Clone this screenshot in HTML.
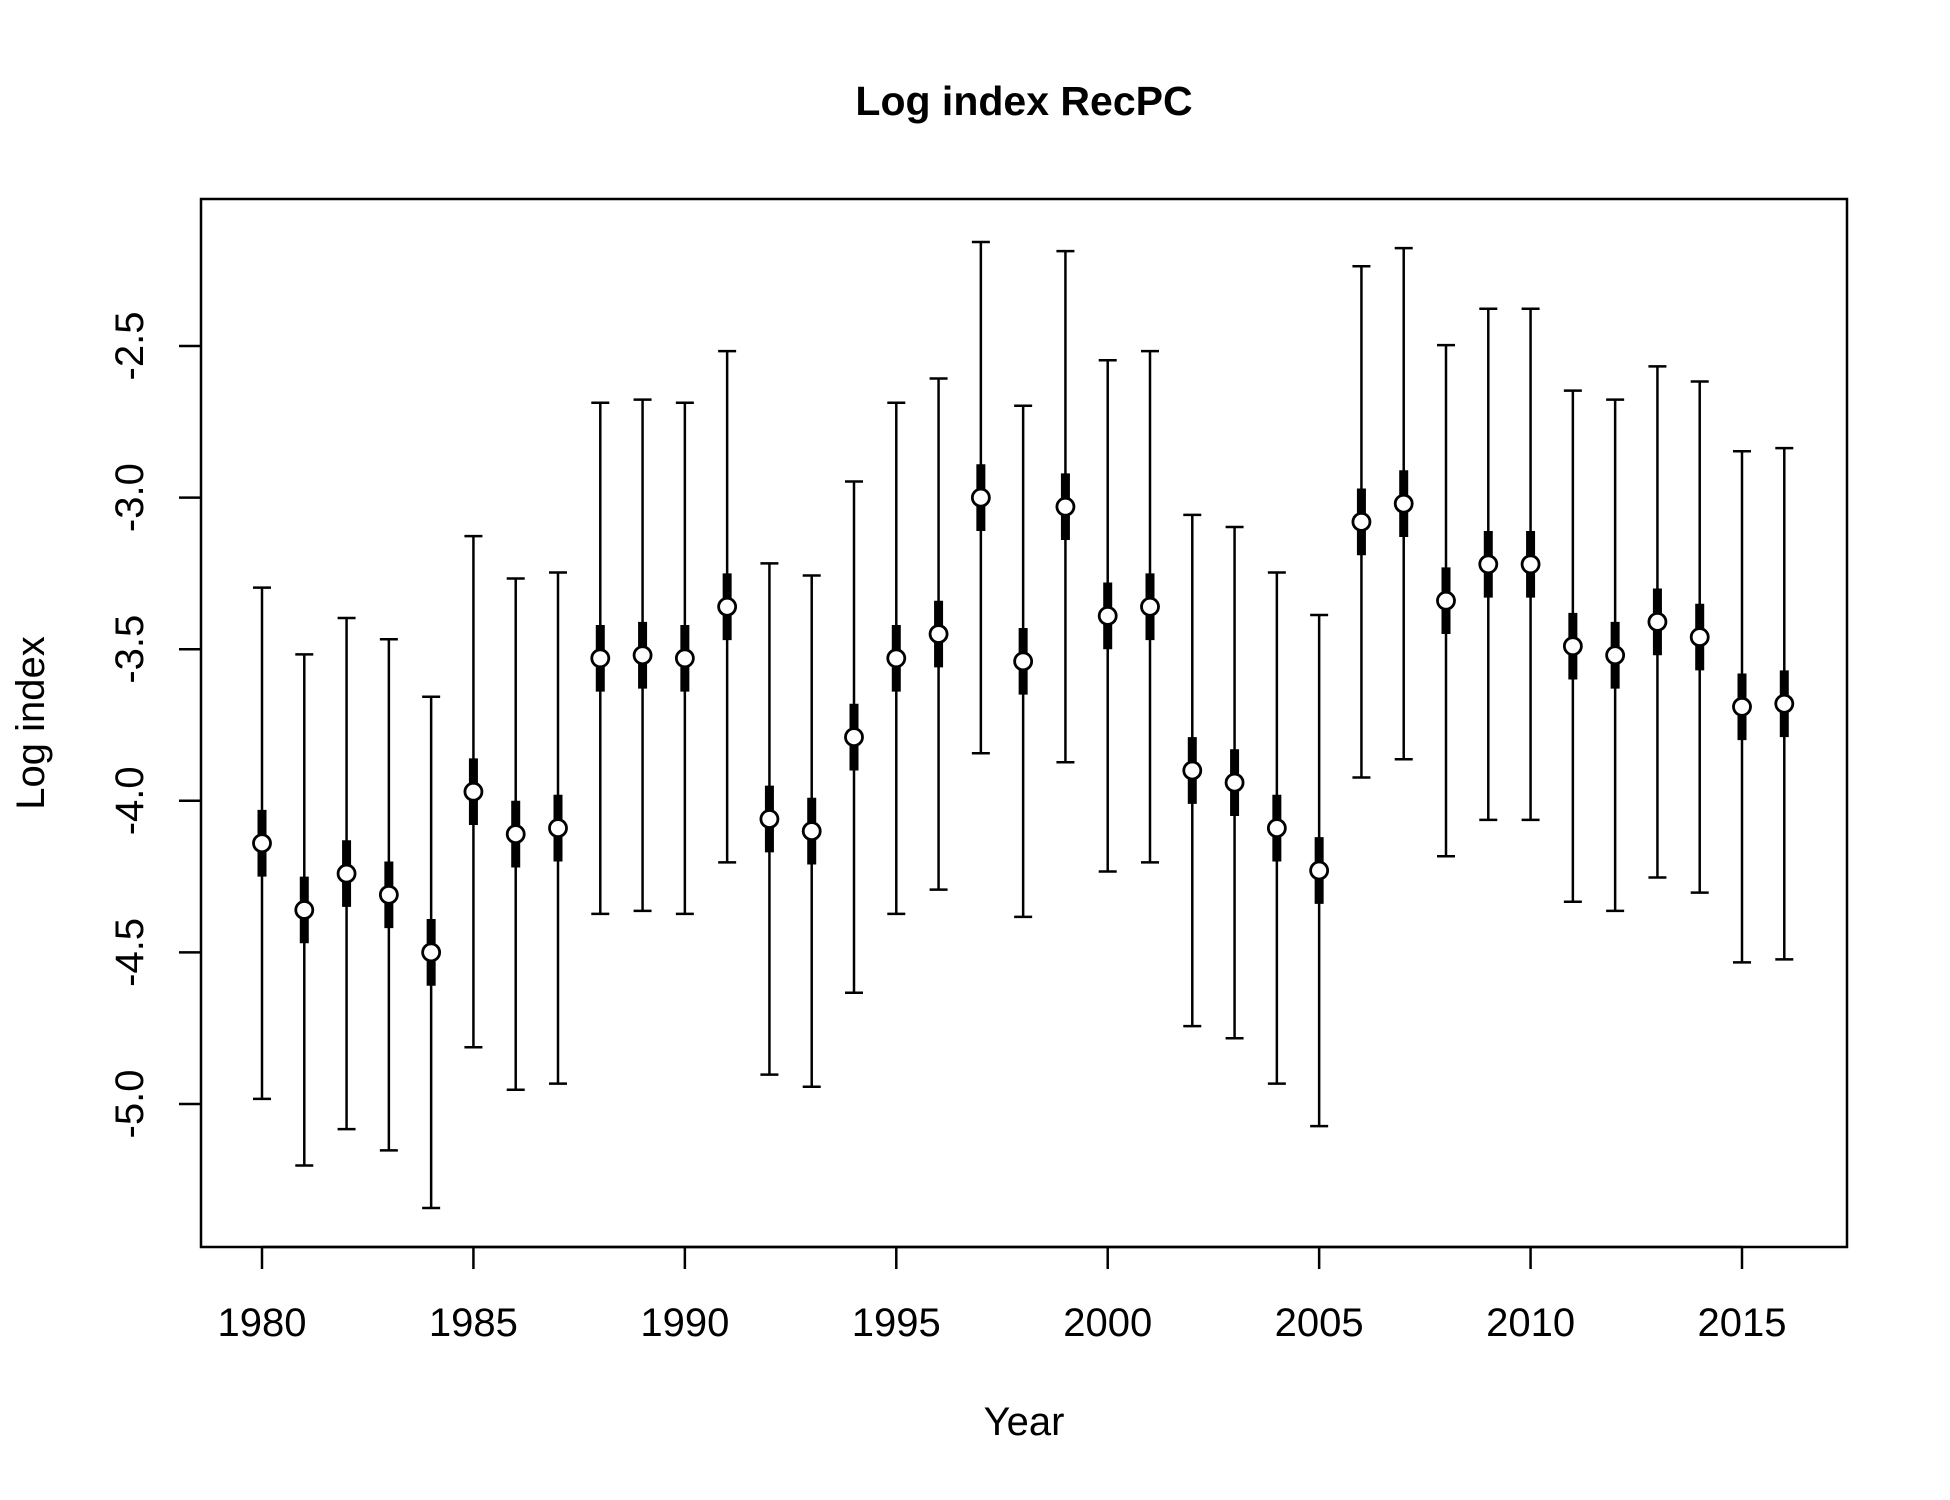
<!DOCTYPE html>
<html><head><meta charset="utf-8"><style>html,body{margin:0;padding:0;background:#fff}svg{display:block}</style></head>
<body>
<svg id="chart" width="1950" height="1500" viewBox="0 0 1950 1500" font-family="Liberation Sans, Arial, sans-serif">
<rect width="1950" height="1500" fill="#fff"/>
<text x="1024" y="115" text-anchor="middle" font-size="41" font-weight="bold">Log index RecPC</text>
<rect x="201" y="199" width="1646" height="1048" fill="none" stroke="#000" stroke-width="2.5"/>
<text x="1024" y="1435" text-anchor="middle" font-size="40">Year</text>
<text transform="translate(44,723) rotate(-90)" text-anchor="middle" font-size="40">Log index</text>
<g id="axes"></g>
<g id="marks"></g>
</svg>
<script>
const years = [1980,1981,1982,1983,1984,1985,1986,1987,1988,1989,1990,1991,1992,1993,1994,1995,1996,1997,1998,1999,2000,2001,2002,2003,2004,2005,2006,2007,2008,2009,2010,2011,2012,2013,2014,2015,2016];
const means = [-4.14,-4.36,-4.24,-4.31,-4.50,-3.97,-4.11,-4.09,-3.53,-3.52,-3.53,-3.36,-4.06,-4.10,-3.79,-3.53,-3.45,-3.00,-3.54,-3.03,-3.39,-3.36,-3.90,-3.94,-4.09,-4.23,-3.08,-3.02,-3.34,-3.22,-3.22,-3.49,-3.52,-3.41,-3.46,-3.69,-3.68];
const ciHalf = [0.843,0.843,0.843,0.843,0.843,0.843,0.843,0.843,0.843,0.843,0.843,0.843,0.843,0.843,0.843,0.843,0.843,0.843,0.843,0.843,0.843,0.843,0.843,0.843,0.843,0.843,0.843,0.843,0.843,0.843,0.843,0.843,0.843,0.843,0.843,0.843,0.843];
const innerHalf = [0.11,0.11,0.11,0.11,0.11,0.11,0.11,0.11,0.11,0.11,0.11,0.11,0.11,0.11,0.11,0.11,0.11,0.11,0.11,0.11,0.11,0.11,0.11,0.11,0.11,0.11,0.11,0.11,0.11,0.11,0.11,0.11,0.11,0.11,0.11,0.11,0.11];
const xTicks = [1980,1985,1990,1995,2000,2005,2010,2015];
const yTicks = [-2.5,-3.0,-3.5,-4.0,-4.5,-5.0];
const yTickLabels = ["-2.5","-3.0","-3.5","-4.0","-4.5","-5.0"];

const NS = "http://www.w3.org/2000/svg";
function xs(yr){ return 262 + (yr-1980)*(1742-262)/35; }
function ys(v){ return 346 + (-2.5 - v)*303.2; }
function mk(tag, attrs, parent){ const e=document.createElementNS(NS,tag); for(const k in attrs) e.setAttribute(k,attrs[k]); parent.appendChild(e); return e; }

const axes = document.getElementById('axes');
const marks = document.getElementById('marks');
const xl = mk('line',{x1:xs(xTicks[0]),x2:xs(xTicks[xTicks.length-1]),y1:1247,y2:1247,stroke:'#000','stroke-width':2.5},axes);


xTicks.forEach(t=>{
  const l = mk('line',{x1:xs(t),x2:xs(t),y1:1247,y2:1269,stroke:'#000','stroke-width':2.5},axes);
  
  
  const tx = mk('text',{x:xs(t),y:1336,'text-anchor':'middle','font-size':40},axes);
  tx.textContent = t;
  
  
});
yTicks.forEach((t,i)=>{
  const l = mk('line',{x1:179,x2:201,y1:ys(t),y2:ys(t),stroke:'#000','stroke-width':2.5},axes);
  
  
  const tx = mk('text',{transform:`translate(143,${ys(t)}) rotate(-90)`,'text-anchor':'middle','font-size':40},axes);
  tx.textContent = yTickLabels[i];
  
  
});
years.forEach((yr,i)=>{
  const x = xs(yr), m = means[i];
  const g = mk('g',{},marks);
  
  
  mk('line',{x1:x,x2:x,y1:ys(m+ciHalf[i]),y2:ys(m-ciHalf[i]),stroke:'#000','stroke-width':2.5},g);
  mk('line',{x1:x-9,x2:x+9,y1:ys(m+ciHalf[i]),y2:ys(m+ciHalf[i]),stroke:'#000','stroke-width':2.5},g);
  mk('line',{x1:x-9,x2:x+9,y1:ys(m-ciHalf[i]),y2:ys(m-ciHalf[i]),stroke:'#000','stroke-width':2.5},g);
  mk('line',{x1:x,x2:x,y1:ys(m+innerHalf[i]),y2:ys(m-innerHalf[i]),stroke:'#000','stroke-width':9},g);
  const c = mk('circle',{cx:x,cy:ys(m),r:8.5,fill:'#fff',stroke:'#000','stroke-width':2.8},g);
  
  
});
</script>
</body></html>
